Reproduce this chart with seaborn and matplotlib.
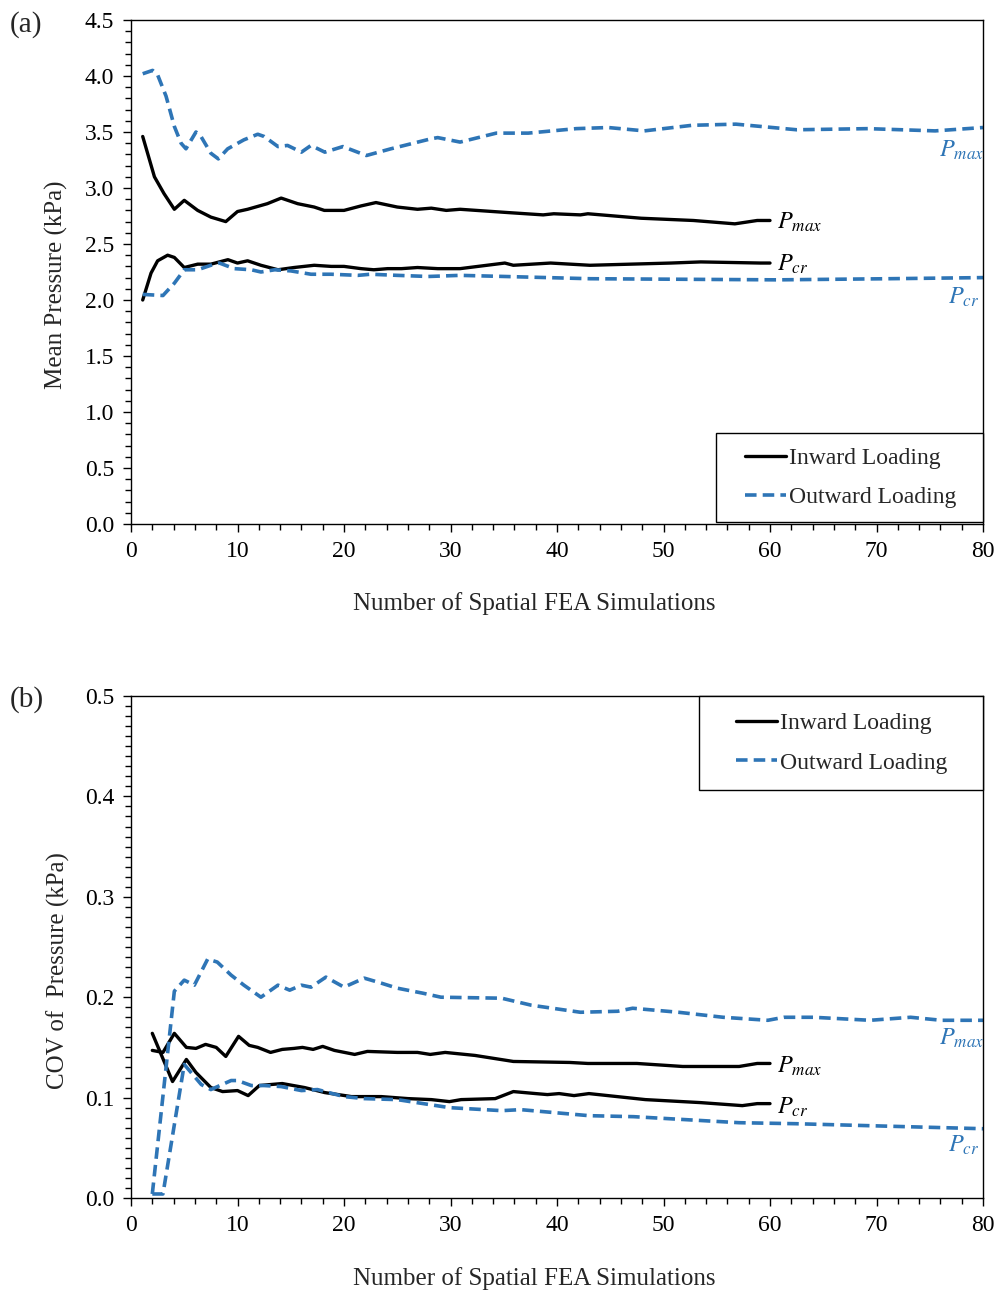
import numpy as np
import pandas as pd
import matplotlib
matplotlib.use("Agg")
import matplotlib.pyplot as plt
from matplotlib.ticker import MultipleLocator, FormatStrFormatter
from matplotlib.lines import Line2D
from matplotlib.patches import Rectangle
import seaborn as sns

# ---------------- data: panel (a) mean pressure ----------------
a_in_pmax_x = [1.1, 2.2, 3.1, 4.07, 5.0, 6.26, 7.5, 8.9, 10.0, 10.95, 12.8, 14.1, 15.65, 17.2, 18.15, 20.0,
               21.6, 23.0, 25.0, 26.9, 28.2, 29.6, 30.9, 35.5, 38.7, 39.7, 42.2, 42.9, 47.9, 52.8, 56.7, 58.8, 60.0]
a_in_pmax_y = [3.46, 3.10, 2.95, 2.81, 2.89, 2.80, 2.74, 2.70, 2.79, 2.81, 2.86, 2.91, 2.86, 2.83, 2.80, 2.80,
               2.84, 2.87, 2.83, 2.81, 2.82, 2.80, 2.81, 2.78, 2.76, 2.77, 2.76, 2.77, 2.73, 2.71, 2.68, 2.71, 2.71]

a_in_pcr_x = [1.1, 1.88, 2.5, 3.44, 4.07, 5.0, 6.26, 7.5, 9.1, 10.0, 10.95, 12.2, 13.8, 15.3, 17.2, 18.8, 20.0,
              21.6, 22.8, 24.1, 25.4, 26.9, 28.8, 30.9, 35.1, 35.9, 39.4, 43.1, 50.7, 53.5, 59.1, 60.0]
a_in_pcr_y = [2.00, 2.24, 2.35, 2.40, 2.38, 2.29, 2.32, 2.32, 2.36, 2.33, 2.35, 2.31, 2.27, 2.29, 2.31, 2.30, 2.30,
              2.28, 2.27, 2.28, 2.28, 2.29, 2.28, 2.28, 2.33, 2.31, 2.33, 2.31, 2.33, 2.34, 2.33, 2.33]

a_out_pmax_x = [1.1, 2.03, 2.5, 3.29, 4.07, 4.7, 5.16, 6.1, 6.57, 7.5, 8.2, 9.08, 10.6, 11.9, 12.5, 13.8, 14.7,
                16.0, 16.9, 18.2, 19.9, 22.1, 24.4, 28.2, 28.8, 30.9, 34.3, 37.3, 41.8, 44.8, 48.2, 52.7, 56.8,
                62.5, 69.2, 75.5, 80.0]
a_out_pmax_y = [4.02, 4.05, 4.01, 3.82, 3.55, 3.40, 3.35, 3.50, 3.46, 3.31, 3.26, 3.35, 3.43, 3.48, 3.46, 3.37, 3.38,
                3.32, 3.38, 3.32, 3.37, 3.29, 3.35, 3.44, 3.45, 3.41, 3.49, 3.49, 3.53, 3.54, 3.51, 3.56, 3.57,
                3.52, 3.53, 3.51, 3.54]

a_out_pcr_x = [1.1, 3.0, 4.07, 5.0, 6.26, 7.5, 8.3, 9.7, 11.3, 12.2, 13.5, 15.0, 16.9, 18.8, 21.3, 22.5, 25.0,
               27.9, 30.9, 35.1, 43.1, 60.7, 71.1, 80.0]
a_out_pcr_y = [2.05, 2.04, 2.15, 2.27, 2.27, 2.31, 2.33, 2.28, 2.27, 2.25, 2.27, 2.26, 2.23, 2.23, 2.22, 2.23, 2.22,
               2.21, 2.22, 2.21, 2.19, 2.18, 2.19, 2.20]

# ---------------- data: panel (b) COV ----------------
b_in_pmax_x = [2.0, 3.0, 4.07, 5.2, 6.1, 7.0, 8.0, 8.9, 10.1, 11.1, 11.9, 13.1, 14.2, 15.3, 16.1, 17.1, 18.0,
               19.1, 21.0, 22.2, 25.0, 26.9, 28.1, 29.5, 32.3, 35.9, 41.2, 42.9, 47.5, 51.8, 54.2, 57.1, 58.8, 60.0]
b_in_pmax_y = [0.147, 0.145, 0.164, 0.150, 0.149, 0.153, 0.150, 0.141, 0.161, 0.152, 0.150, 0.145, 0.148, 0.149,
               0.150, 0.148, 0.151, 0.147, 0.143, 0.146, 0.145, 0.145, 0.143, 0.145, 0.142, 0.136, 0.135, 0.134,
               0.134, 0.131, 0.131, 0.131, 0.134, 0.134]

b_in_pcr_x = [2.0, 3.9, 5.2, 6.1, 7.5, 8.6, 10.0, 11.0, 12.05, 13.1, 14.2, 16.3, 18.2, 20.7, 23.5, 26.0, 28.2,
              29.9, 31.0, 34.2, 35.9, 38.0, 39.1, 40.2, 41.6, 43.0, 48.3, 53.5, 57.4, 58.8, 60.0]
b_in_pcr_y = [0.164, 0.116, 0.138, 0.125, 0.110, 0.106, 0.107, 0.102, 0.112, 0.113, 0.114, 0.110, 0.105, 0.101,
              0.101, 0.099, 0.098, 0.096, 0.098, 0.099, 0.106, 0.104, 0.103, 0.104, 0.102, 0.104, 0.098, 0.095,
              0.092, 0.094, 0.094]

b_out_pmax_x = [2.0, 4.07, 5.0, 5.95, 7.2, 8.1, 9.4, 10.6, 12.2, 13.8, 14.9, 16.0, 16.9, 18.3, 20.0, 21.9, 23.5,
                25.0, 27.4, 29.1, 34.8, 37.6, 42.2, 45.7, 47.1, 51.4, 55.6, 59.8, 61.3, 64.1, 69.4, 73.2, 76.1, 80.0]
b_out_pmax_y = [0.004, 0.206, 0.217, 0.212, 0.238, 0.235, 0.222, 0.212, 0.200, 0.212, 0.207, 0.212, 0.210, 0.220,
                0.210, 0.219, 0.214, 0.209, 0.204, 0.200, 0.199, 0.192, 0.185, 0.186, 0.189, 0.185, 0.180, 0.177,
                0.180, 0.180, 0.177, 0.180, 0.177, 0.177]

b_out_pcr_x = [2.0, 3.0, 5.0, 6.6, 7.5, 9.4, 10.0, 11.3, 12.5, 14.1, 16.0, 17.5, 20.0, 21.9, 25.0, 29.9, 34.8,
               36.6, 43.0, 47.2, 57.1, 62.4, 69.4, 80.0]
b_out_pcr_y = [0.004, 0.004, 0.133, 0.113, 0.108, 0.117, 0.117, 0.112, 0.112, 0.111, 0.107, 0.108, 0.101, 0.099,
               0.098, 0.090, 0.087, 0.088, 0.082, 0.081, 0.075, 0.074, 0.072, 0.069]

x_label = "Number of Spatial FEA Simulations"
ylabel_a = "Mean Pressure (kPa)"
ylabel_b = "COV of  Pressure (kPa)"
legend_labels = ["Inward Loading", "Outward Loading"]

# ---------------- style ----------------
sns.set_theme(style="ticks")
plt.rcParams['font.family'] = ['Liberation Serif', 'DejaVu Serif']
plt.rcParams['mathtext.fontset'] = 'stix'
plt.rcParams['axes.edgecolor'] = 'black'
plt.rcParams['axes.linewidth'] = 1.0
plt.rcParams['xtick.color'] = 'black'
plt.rcParams['ytick.color'] = 'black'

BLACK = '#000000'
BLUE = '#2E75B6'
DASH = (0, (3.2, 1.7))
FS_TICK = 17
FS_LAB = 18

fig = plt.figure(figsize=(9.97, 12.90), dpi=100)
axA = fig.add_axes([131/997, 1-524/1290, (983-131)/997, (524-20)/1290])
axB = fig.add_axes([131/997, 1-1198/1290, (983-131)/997, (1198-696)/1290])


def draw(ax, series):
    for x, y, style in series:
        df = pd.DataFrame({'x': x, 'y': y})
        if style == 'in':
            sns.lineplot(data=df, x='x', y='y', ax=ax, color=BLACK, lw=2.4, estimator=None,
                         sort=False)
        else:
            sns.lineplot(data=df, x='x', y='y', ax=ax, color=BLUE, lw=2.6, estimator=None,
                         sort=False, linestyle=DASH)


draw(axA, [(a_in_pmax_x, a_in_pmax_y, 'in'), (a_in_pcr_x, a_in_pcr_y, 'in'),
           (a_out_pmax_x, a_out_pmax_y, 'out'), (a_out_pcr_x, a_out_pcr_y, 'out')])
draw(axB, [(b_in_pmax_x, b_in_pmax_y, 'in'), (b_in_pcr_x, b_in_pcr_y, 'in'),
           (b_out_pmax_x, b_out_pmax_y, 'out'), (b_out_pcr_x, b_out_pcr_y, 'out')])

axis_cfg = [
    # ax, ylabel, ymax, major, minor, xlabel pos, ylabel pos
    (axA, ylabel_a, 4.5, 0.5, 0.1, (0.473, -0.157), (-0.088, 0.474)),
    (axB, ylabel_b, 0.5, 0.1, 0.01, (0.473, -0.160), (-0.085, 0.454)),
]
for ax, ylab, ymax, ymaj, ymin, xlpos, ylpos in axis_cfg:
    ax.set_xlim(0, 80)
    ax.set_ylim(0, ymax)
    ax.xaxis.set_major_locator(MultipleLocator(10))
    ax.xaxis.set_minor_locator(MultipleLocator(2))
    ax.yaxis.set_major_locator(MultipleLocator(ymaj))
    ax.yaxis.set_minor_locator(MultipleLocator(ymin))
    ax.yaxis.set_major_formatter(FormatStrFormatter('%.1f'))
    ax.tick_params(which='major', direction='out', length=6, width=1, labelsize=FS_TICK, pad=6)
    ax.tick_params(which='minor', direction='out', length=4, width=1)
    ax.set_xlabel(x_label, fontsize=FS_LAB)
    ax.set_ylabel(ylab, fontsize=FS_LAB)
    ax.xaxis.label.set_va('center')
    ax.yaxis.label.set_va('center')
    ax.xaxis.set_label_coords(*xlpos)
    ax.yaxis.set_label_coords(*ylpos)
    for s in ax.spines.values():
        s.set_visible(True)
        s.set_color('black')
        s.set_linewidth(1.0)

# curve labels
lab_kw = dict(fontsize=17.5, va='center', ha='left')
axA.text(60.7, 2.69, r'$P_{max}$', color=BLACK, **lab_kw)
axA.text(60.7, 2.32, r'$P_{cr}$', color=BLACK, **lab_kw)
axA.text(75.9, 3.34, r'$P_{max}$', color=BLUE, **lab_kw)
axA.text(76.7, 2.02, r'$P_{cr}$', color=BLUE, **lab_kw)
axB.text(60.7, 0.1315, r'$P_{max}$', color=BLACK, **lab_kw)
axB.text(60.7, 0.090, r'$P_{cr}$', color=BLACK, **lab_kw)
axB.text(75.9, 0.159, r'$P_{max}$', color=BLUE, **lab_kw)
axB.text(76.7, 0.052, r'$P_{cr}$', color=BLUE, **lab_kw)

# legends: frame drawn as an axes-fraction rectangle, entries placed inside
handles = [Line2D([], [], color=BLACK, lw=2.4),
           Line2D([], [], color=BLUE, lw=2.6, linestyle=DASH)]
legend_cfg = [
    # ax, frame (x0, y0, w, h) axes fraction, anchor of entries (left, center)
    (axA, (0.6866, 0.004, 0.3134, 0.1766), (0.7207, 0.0913)),
    (axB, (0.6667, 0.8127, 0.3333, 0.1873), (0.7100, 0.906)),
]
for ax, (fx, fy, fw, fh), anchor in legend_cfg:
    ax.add_patch(Rectangle((fx, fy), fw, fh, transform=ax.transAxes, facecolor='white',
                           edgecolor='black', lw=1.0, zorder=4, clip_on=False))
    leg = ax.legend(handles, legend_labels, loc='center left', bbox_to_anchor=anchor, fontsize=17,
                    frameon=False, borderaxespad=0.0, borderpad=0.0, handlelength=1.75,
                    handletextpad=0.1, labelspacing=0.75)
    leg.set_zorder(5)

fig.text(10/997, 1-25/1290, '(a)', fontsize=21, ha='left', va='center')
fig.text(10/997, 1-700/1290, '(b)', fontsize=21, ha='left', va='center')

fig.savefig('out.png', dpi=100, facecolor='white')
